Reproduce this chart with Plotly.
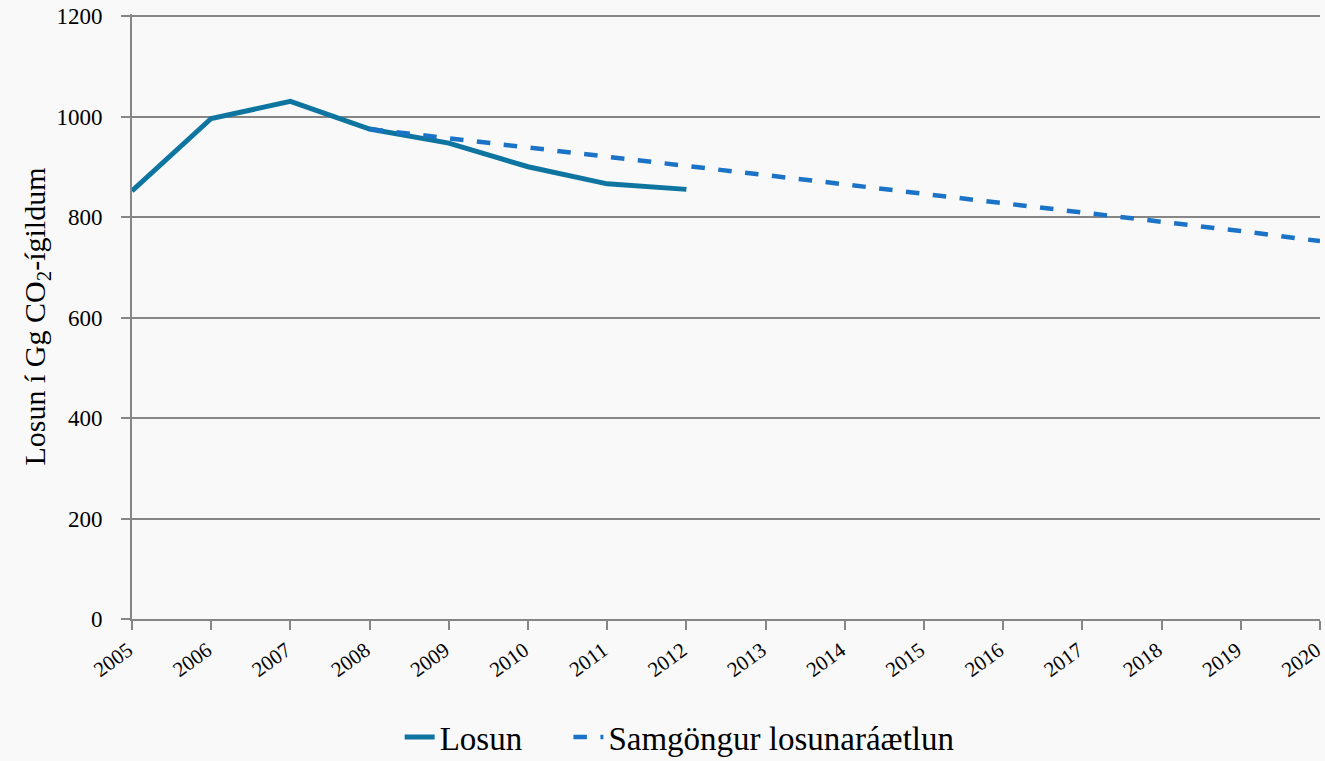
import plotly.graph_objects as go

years = [str(y) for y in range(2005, 2021)]
losun_years = [str(y) for y in range(2005, 2013)]
losun = [852, 996, 1030, 975, 947, 900, 866, 855]
plan_years = [str(y) for y in range(2008, 2021)]
plan = [975, 957, 938, 920, 901, 883, 865, 846, 828, 809, 791, 772, 752]

font_family = "Liberation Serif, DejaVu Serif, serif"
bg = "#f9f9f9"

fig = go.Figure()
fig.add_trace(go.Scatter(x=losun_years, y=losun, mode="lines", name="Losun\u00a0\u00a0\u00a0\u00a0\u00a0",
                         line=dict(color="#0e75a0", width=5)))
fig.add_trace(go.Scatter(x=plan_years, y=plan, mode="lines", name="Samgöngur losunaráætlun",
                         line=dict(color="#1b73c8", width=4.5, dash="dash")))

fig.update_layout(
    width=1325, height=761,
    margin=dict(l=132, r=5, t=14, b=142, autoexpand=False),
    paper_bgcolor=bg, plot_bgcolor=bg,
    font=dict(family=font_family, color="black", size=20),
    showlegend=True,
    legend=dict(orientation="h", x=0.461, xanchor="center", y=-0.195, yanchor="middle",
                font=dict(size=33), bgcolor="rgba(0,0,0,0)"),
    xaxis=dict(type="category", categoryorder="array", categoryarray=years,
               range=[0, 15], tickangle=-36, automargin=False,
               ticklabelshift=-4,
               showgrid=False, showline=True, linecolor="#868686", linewidth=2,
               ticks="outside", ticklen=9, tickcolor="#868686", tickwidth=2,
               tickfont=dict(size=21), zeroline=False),
    yaxis=dict(range=[0, 1204], tickvals=[0, 200, 400, 600, 800, 1000, 1200],
               automargin=False,
               showgrid=True, gridcolor="#868686", gridwidth=1.5,
               showline=True, linecolor="#868686", linewidth=2,
               ticks="outside", ticklen=9, tickcolor="#868686", tickwidth=1.5,
               ticklabelstandoff=14, ticklabeloverflow="allow",
               tickfont=dict(size=23), zeroline=False,
               title=dict(text="Losun í Gg CO<sub>2</sub>-ígildum", font=dict(size=30), standoff=2)),
)

fig.write_html("out.html", config={"displayModeBar": False},
               post_script="document.body.style.margin='0';document.body.style.background='#f9f9f9';")
